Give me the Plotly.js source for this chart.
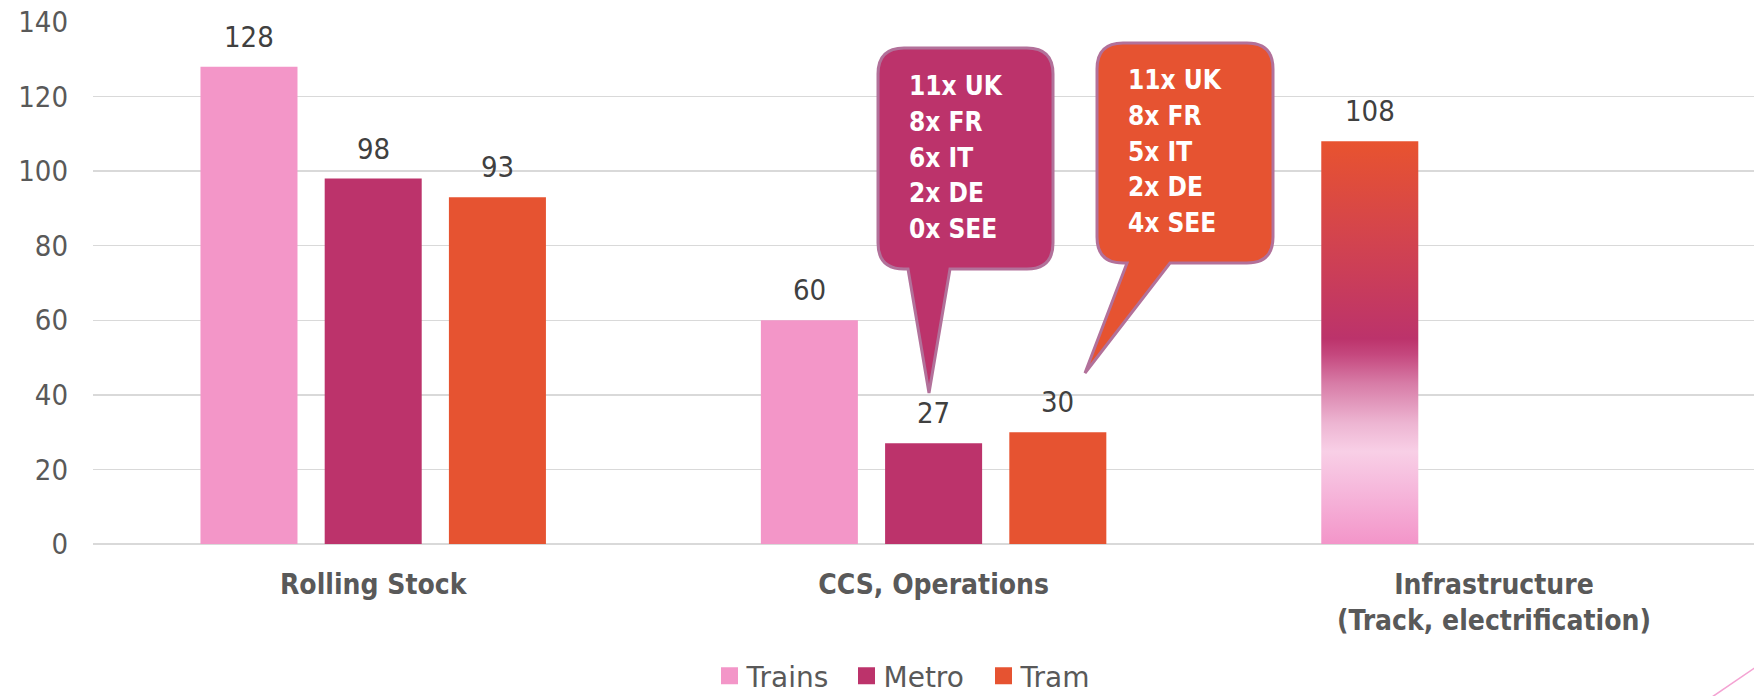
<!DOCTYPE html>
<html><head><meta charset="utf-8">
<script src="https://cdn.plot.ly/plotly-3.0.1.min.js"></script>
<style>html,body{margin:0;padding:0;background:#fff;overflow:hidden}#chart{width:1754px;height:696px}</style>
</head><body><div id="chart"></div>
<script>
// ---- data ----
const categories = ['Rolling Stock', 'CCS, Operations', 'Infrastructure<br>(Track, electrification)'];
const seriesNames = ['Trains', 'Metro', 'Tram'];
const trains = [128, 60, 108];
const metro = [98, 27, null];
const tram = [93, 30, null];
const yTicks = [0, 20, 40, 60, 80, 100, 120, 140];
const metroCallout = ['11x UK', '8x FR', '6x IT', '2x DE', '0x SEE'];
const tramCallout = ['11x UK', '8x FR', '5x IT', '2x DE', '4x SEE'];

// ---- style ----
const seriesColors = ['#F396C8', '#BC336B', '#E65331'];
const FONT = 'DejaVu Sans Condensed, DejaVu Sans, sans-serif';
const FONT_WIDE = 'DejaVu Sans, sans-serif';
const W = 1754, H = 696, L = 93, R = 0, T = 22, B = 152;
const PW = W - L - R, PH = H - T - B;
const BARGAP = 0.335, BARGROUPGAP = 0.219;
const XRANGE = [-0.5, -0.5 + PW / 560.4];
const LEGEND_CENTER_Y = 676;

const allSeries = [trains, metro, tram];
const traces = allSeries.map((vals, i) => ({
  type: 'bar', name: seriesNames[i], x: categories, y: vals,
  marker: {color: seriesColors[i]}, hoverinfo: 'skip'
}));

// data labels as annotations (positions from the data + group layout)
const annotations = [];
const slot = (1 - BARGAP) / allSeries.length;
allSeries.forEach((vals, s) => {
  vals.forEach((v, c) => {
    if (v === null) return;
    annotations.push({
      xref: 'x', yref: 'y', x: c + (s - 1) * slot, y: v, text: String(v),
      showarrow: false, yanchor: 'bottom', yshift: 11,
      font: {family: FONT, size: 29, color: '#404040'}
    });
  });
});

function px(x, y) { return [((x - L) / PW).toFixed(5), ((T + PH - y) / PH).toFixed(5)]; }
function P(x, y) { const p = px(x, y); return p[0] + ',' + p[1]; }
function bubblePath(x0, y0, x1, y1, r, bx0, bx1, tx, ty) {
  return 'M' + P(x0 + r, y0) + ' L' + P(x1 - r, y0) + ' Q' + P(x1, y0) + ' ' + P(x1, y0 + r) +
    ' L' + P(x1, y1 - r) + ' Q' + P(x1, y1) + ' ' + P(x1 - r, y1) +
    ' L' + P(bx1, y1) + ' L' + P(tx, ty) + ' L' + P(bx0, y1) +
    ' L' + P(x0 + r, y1) + ' Q' + P(x0, y1) + ' ' + P(x0, y1 - r) +
    ' L' + P(x0, y0 + r) + ' Q' + P(x0, y0) + ' ' + P(x0 + r, y0) + ' Z';
}
const shapes = [
  {type: 'path', xref: 'paper', yref: 'paper', layer: 'above',
   path: bubblePath(878, 48, 1053, 269, 26, 908, 950, 929, 393),
   fillcolor: seriesColors[1], line: {color: '#B2719A', width: 3}},
  {type: 'path', xref: 'paper', yref: 'paper', layer: 'above',
   path: bubblePath(1097, 43, 1273, 263, 26, 1127, 1170, 1085, 373),
   fillcolor: seriesColors[2], line: {color: '#B2719A', width: 3}},
  (function () { const a = px(1756, 667), b = px(1712, 697);
    return {type: 'line', xref: 'paper', yref: 'paper', x0: a[0], y0: a[1], x1: b[0], y1: b[1],
      line: {color: '#F4A3D3', width: 1.6}}; })()
];

function calloutLines(lines, left, firstCapCenter) {
  lines.forEach((t, k) => {
    const p = px(left, firstCapCenter + k * 35.8);
    annotations.push({xref: 'paper', yref: 'paper', x: +p[0], y: +p[1], text: t,
      showarrow: false, xanchor: 'left', yanchor: 'middle',
      font: {family: FONT, size: 26, color: '#FFFFFF', weight: 'bold'}});
  });
}
calloutLines(metroCallout, 907, 86);
calloutLines(tramCallout, 1126, 80);

const layout = {
  width: W, height: H, margin: {l: L, r: R, t: T, b: B, pad: 0, autoexpand: false},
  paper_bgcolor: '#FFFFFF', plot_bgcolor: '#FFFFFF',
  barmode: 'group', bargap: BARGAP, bargroupgap: BARGROUPGAP,
  showlegend: true, hovermode: false,
  legend: {orientation: 'h', x: (912 - L) / PW, xanchor: 'center', y: (T + PH - 694) / PH, yanchor: 'bottom',
    entrywidth: 92, entrywidthmode: 'pixels',
    font: {family: FONT_WIDE, size: 28, color: '#595959'}, traceorder: 'normal', itemclick: false},
  xaxis: {type: 'category', range: XRANGE, showgrid: false, zeroline: false, showline: false,
    ticks: '', ticklabelstandoff: 21,
    tickfont: {family: FONT, size: 28, color: '#595959', weight: 'bold'}},
  yaxis: {range: [0, 140], tickvals: yTicks, ticktext: yTicks.map(String), showgrid: true,
    gridcolor: '#D9D9D9', gridwidth: 1.3, zeroline: true, zerolinecolor: '#D9D9D9', zerolinewidth: 1.3,
    showline: false, ticks: '', ticklabelstandoff: 24,
    tickfont: {family: FONT, size: 29, color: '#595959'}},
  annotations: annotations, shapes: shapes
};

Plotly.newPlot('chart', traces, layout, {displayModeBar: false, staticPlot: true}).then(function () {
  const svgNS = 'http://www.w3.org/2000/svg';
  const defs = document.querySelector('#chart .main-svg defs');
  const lg = document.createElementNS(svgNS, 'linearGradient');
  lg.setAttribute('id', 'infraGrad');
  lg.setAttribute('x1', '0'); lg.setAttribute('y1', '0'); lg.setAttribute('x2', '0'); lg.setAttribute('y2', '1');
  const stops = [[0, '#E8532F'], [0.25, '#D2434F'], [0.49, '#BC336B'], [0.53, '#C5487E'], [0.60, '#D77BA6'],
    [0.70, '#EDB5D2'], [0.77, '#F8CFE6'], [0.86, '#F6B9DC'], [1, '#F395C9']];
  stops.forEach(s => { const st = document.createElementNS(svgNS, 'stop');
    st.setAttribute('offset', s[0]); st.setAttribute('stop-color', s[1]); lg.appendChild(st); });
  defs.appendChild(lg);
  const tr = document.querySelectorAll('#chart .barlayer .trace')[0];
  const pts = tr.querySelectorAll('.point path');
  if (pts[2]) pts[2].style.fill = 'url(#infraGrad)';
  document.querySelectorAll('#chart .legendpoints path').forEach(p => p.setAttribute('d', 'M11.5,8.5H-5.5V-8.5H11.5Z'));
  // nudge legend so its text centre sits where the reference has it (box itself stays unclipped)
  const lgG = document.querySelector('#chart g.legend');
  if (lgG) {
    const bg = lgG.querySelector('rect.bg');
    const h = bg ? +bg.getAttribute('height') : 0;
    const m = /translate\(\s*([-\d.e]+)[\s,]+([-\d.e]+)\s*\)/.exec(lgG.getAttribute('transform') || '');
    if (m && h) {
      const x = +m[1], y = +m[2];
      const dy = LEGEND_CENTER_Y - (y + h / 2);
      lgG.setAttribute('transform', 'translate(' + x + ',' + (y + dy) + ')');
    }
  }
});
</script>
</body></html>
